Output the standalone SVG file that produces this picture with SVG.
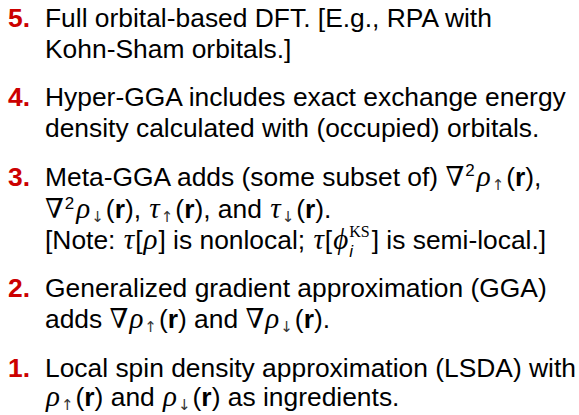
<svg xmlns="http://www.w3.org/2000/svg" width="579" height="415" viewBox="0 0 579 415">
  <style>
    text { font-family: "Liberation Sans", Arial, sans-serif; font-size: 26.4px; fill: #000; }
    .num { font-weight: bold; fill: #cc0000; }
    .m { font-family: "Liberation Serif", "DejaVu Serif", serif; font-style: italic; font-size: 29px; }
    .op { font-family: "DejaVu Serif", "Liberation Serif", serif; font-size: 27px; }
    .b { font-weight: bold; }
    .sup { font-size: 17px; }
    .arr { font-family: "DejaVu Sans", sans-serif; font-size: 15px; fill: #333; }
    .ks { font-family: "Liberation Serif", serif; font-size: 16px; }
    .si { font-style: italic; font-size: 17px; }
  </style>
  <rect width="579" height="415" fill="#ffffff"/>

  <!-- item 5 -->
  <g id="item5">
    <text class="num" x="8" y="27">5.</text>
    <text x="45" y="27">Full orbital-based DFT. [E.g., RPA with</text>
    <text x="45" y="58">Kohn-Sham orbitals.]</text>
  </g>

  <!-- item 4 -->
  <g id="item4">
    <text class="num" x="8" y="106">4.</text>
    <text x="45" y="106">Hyper-GGA includes exact exchange energy</text>
    <text x="45" y="137">density calculated with (occupied) orbitals.</text>
  </g>

  <!-- item 3 -->
  <g id="item3">
    <text class="num" x="8" y="186">3.</text>
    <text x="45" y="186">Meta-GGA adds (some subset of) <tspan class="op">∇</tspan><tspan class="sup" dx="1" dy="-10">2</tspan><tspan class="m" dx="2" dy="10">ρ</tspan><tspan class="arr" dx="1" dy="4">↑</tspan><tspan dx="2" dy="-4">(</tspan><tspan class="b">r</tspan>),</text>
    <text x="45" y="218"><tspan class="op">∇</tspan><tspan class="sup" dx="1" dy="-9">2</tspan><tspan class="m" dx="2" dy="9">ρ</tspan><tspan class="arr" dx="1" dy="4">↓</tspan><tspan dx="2" dy="-4">(</tspan><tspan class="b">r</tspan>), <tspan class="m" dx="1">τ</tspan><tspan class="arr" dx="1" dy="4">↑</tspan><tspan dx="2" dy="-4">(</tspan><tspan class="b">r</tspan>), and <tspan class="m" dx="1">τ</tspan><tspan class="arr" dx="1" dy="4">↓</tspan><tspan dx="2" dy="-4">(</tspan><tspan class="b">r</tspan>).</text>
    <text x="45" y="249">[Note: <tspan class="m" dx="1">τ</tspan><tspan dx="1">[</tspan><tspan class="m" dx="1">ρ</tspan><tspan dx="1">]</tspan> is nonlocal; <tspan class="m" dx="1">τ</tspan><tspan dx="1">[</tspan><tspan class="m" dx="1">ϕ</tspan><tspan class="si" dx="1" dy="8">i</tspan><tspan class="ks" dx="-3.8" dy="-20">KS</tspan><tspan dx="2" dy="12">]</tspan> is semi-local.]</text>
  </g>

  <!-- item 2 -->
  <g id="item2">
    <text class="num" x="8" y="297">2.</text>
    <text x="45" y="297">Generalized gradient approximation (GGA)</text>
    <text x="45" y="328">adds <tspan class="op">∇</tspan><tspan class="m" dx="1">ρ</tspan><tspan class="arr" dx="1" dy="4">↑</tspan><tspan dx="2" dy="-4">(</tspan><tspan class="b">r</tspan>) and <tspan class="op">∇</tspan><tspan class="m" dx="1">ρ</tspan><tspan class="arr" dx="1" dy="4">↓</tspan><tspan dx="2" dy="-4">(</tspan><tspan class="b">r</tspan>).</text>
  </g>

  <!-- item 1 -->
  <g id="item1">
    <text class="num" x="8" y="377">1.</text>
    <text x="45" y="377">Local spin density approximation (LSDA) with</text>
    <text x="45" y="406"><tspan class="m" dx="1">ρ</tspan><tspan class="arr" dx="1" dy="4">↑</tspan><tspan dx="2" dy="-4">(</tspan><tspan class="b">r</tspan>) and <tspan class="m" dx="1">ρ</tspan><tspan class="arr" dx="1" dy="4">↓</tspan><tspan dx="2" dy="-4">(</tspan><tspan class="b">r</tspan>) as ingredients.</text>
  </g>
</svg>
